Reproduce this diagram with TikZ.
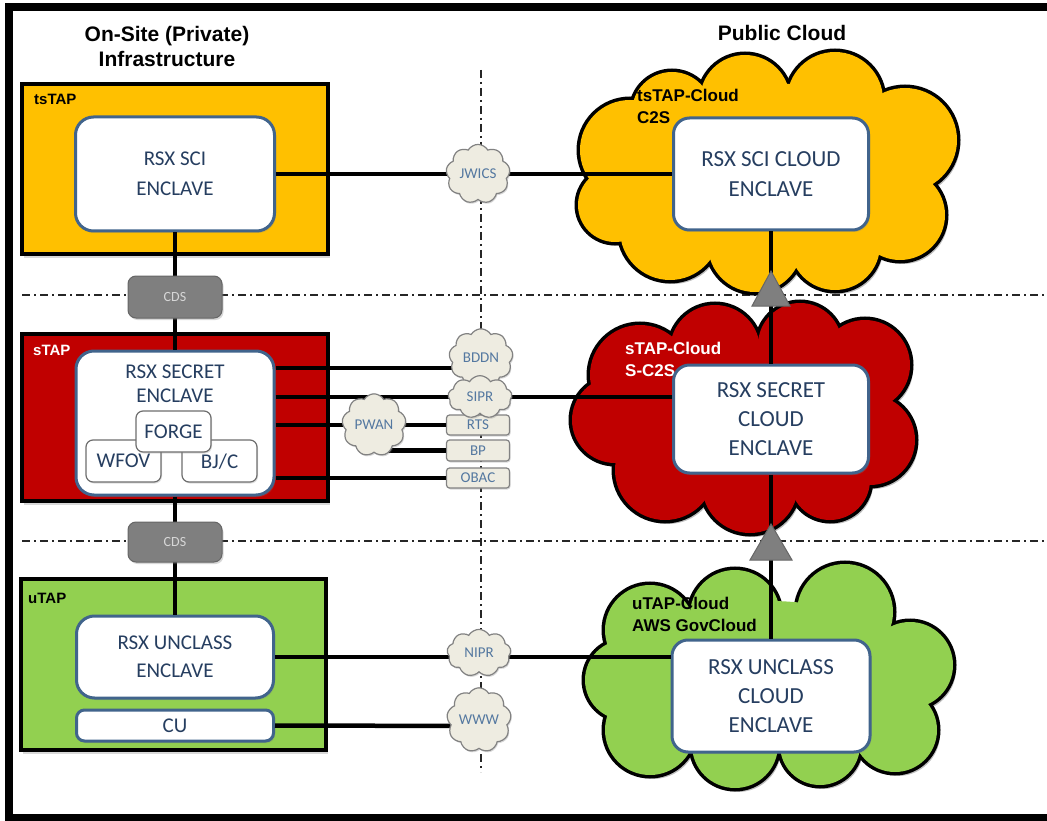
\documentclass[tikz,border=0pt]{standalone}
\usepackage{fontspec}
\setmainfont{Carlito}
\newfontfamily\hdr{Liberation Sans}
\usetikzlibrary{shapes.symbols,shapes.geometric,shadows,calc}
\definecolor{tsorange}{RGB}{255,192,0}
\definecolor{sred}{RGB}{192,0,0}
\definecolor{ugreen}{RGB}{146,208,80}
\definecolor{encborder}{RGB}{65,100,140}
\definecolor{enctext}{RGB}{38,62,96}
\definecolor{smallfill}{RGB}{238,236,225}
\definecolor{smallborder}{RGB}{130,130,130}
\definecolor{smalltext}{RGB}{84,120,160}
\definecolor{cdsfill}{RGB}{127,127,127}
\definecolor{cdstext}{RGB}{215,215,215}
\definecolor{subborder}{RGB}{110,110,110}
\tikzset{
  sep/.style={draw=black!85, line width=1.8pt, dash pattern=on 8pt off 4pt on 2pt off 4pt},
  tapbox/.style={draw=black, line width=4pt, inner sep=0pt,
    drop shadow={shadow xshift=2pt, shadow yshift=-4pt, opacity=0.3}},
  taplabel/.style={font=\hdr\bfseries\fontsize{15}{18}\selectfont, anchor=west, inner sep=0pt},
  enclave/.style={draw=encborder, fill=white, line width=3pt, rounded corners=18pt, inner sep=0pt,
    align=center, text=enctext, font=\fontsize{21}{28}\selectfont,
    drop shadow={shadow xshift=1.5pt, shadow yshift=-2pt, opacity=0.25}},
  cenclave/.style={enclave, rounded corners=16pt, font=\fontsize{23}{29}\selectfont},
  subbox/.style={draw=subborder, fill=white, line width=1.2pt, rounded corners=7pt, inner sep=0pt,
    text=enctext, font=\fontsize{21}{24}\selectfont,
    drop shadow={shadow xshift=1pt, shadow yshift=-1.5pt, opacity=0.25}},
  cloudlabel/.style={font=\hdr\bfseries\fontsize{17}{22}\selectfont, align=left, anchor=north west, inner sep=0pt},
  net/.style={cloud, cloud puffs=9, cloud puff arc=120, draw=smallborder, fill=smallfill, line width=1.2pt,
    minimum width=64pt, minimum height=36pt, inner sep=0pt, text=smalltext,
    font=\fontsize{15}{17}\selectfont,
    drop shadow={shadow xshift=1pt, shadow yshift=-1.5pt, opacity=0.3}},
  netbox/.style={draw=smallborder, fill=smallfill, line width=1.2pt, rounded corners=3pt,
    minimum width=63pt, inner sep=0pt, text=smalltext, font=\fontsize{15}{17}\selectfont,
    drop shadow={shadow xshift=1pt, shadow yshift=-1.5pt, opacity=0.3}},
  cds/.style={draw=black!60, fill=cdsfill, line width=1pt, rounded corners=8pt, minimum width=94pt,
    inner sep=0pt, text=cdstext, font=\fontsize{14}{16}\selectfont,
    drop shadow={shadow xshift=1.5pt, shadow yshift=-2pt, opacity=0.3}},
  conn/.style={draw=black, line width=4.5pt},
  up/.style={fill=cdsfill, draw=black!60, line width=1pt},
  title/.style={font=\hdr\bfseries\fontsize{21}{25}\selectfont, align=center, inner sep=0pt}
}
% lumpy cloud built from circles: #1 fill colour, #2 circle list x/y/r, #3 filler ellipse centre, #4 radii
\newcommand{\lumpycloud}[4]{%
  \begin{scope}[transparency group, opacity=0.25, shift={(3,4)}]
    \foreach \cx/\cy/\cr in {#2} \fill[black] (\cx,\cy) circle[radius=\cr pt];
    \fill[black] #3 ellipse[x radius=#4];
  \end{scope}
  \foreach \cx/\cy/\cr in {#2} \draw[line width=7pt] (\cx,\cy) circle[radius=\cr pt];
  \foreach \cx/\cy/\cr in {#2} \fill[#1] (\cx,\cy) circle[radius=\cr pt];
  \fill[#1] #3 ellipse[x radius=#4];
}
\begin{document}
\begin{tikzpicture}[x=1pt,y=-1pt]
\useasboundingbox (0,0) rectangle (1047,821);
\fill[white] (0,0) rectangle (1047,821);
% frame
\draw[line width=8pt] (1047,7) -- (9,7) -- (9,818) -- (1047,818);

% titles
\node[title] (t1) at (167,46) {On-Site (Private)\\Infrastructure};
\node[title] (t2) at (782,33) {Public Cloud};

% separators
\draw[sep] (22,295) -- (1047,295);
\draw[sep] (22,541) -- (1047,541);
\draw[sep] (481,70) -- (481,772);

% big clouds
\lumpycloud{tsorange}{630/150/50, 672/112/40, 745/100/45, 835/100/48, 905/140/52, 900/215/45, 835/245/45, 755/245/47, 670/230/50, 615/205/37}{(767,173)}{150pt, y radius=90pt}
\lumpycloud{sred}{640/375/50, 715/350/45, 800/345/42, 865/365/45, 870/440/45, 830/480/40, 750/485/48, 665/470/50, 615/420/43}{(743,419)}{140pt, y radius=80pt}
\lumpycloud{ugreen}{650/630/45, 735/615/45, 845/612/48, 910/665/43, 895/730/42, 820/745/40, 735/745/43, 650/730/45, 625/680/40}{(769,676)}{150pt, y radius=75pt}
\coordinate (tscloud) at (767,173);
\coordinate (scloud) at (743,419);
\coordinate (ucloud) at (769,676);

% TAP boxes
\node[tapbox, fill=tsorange, minimum width=306pt, minimum height=170pt] (tstap) at (175,169) {};
\node[tapbox, fill=sred, minimum width=306pt, minimum height=167pt] (stap) at (175,417.5) {};
\node[tapbox, fill=ugreen, minimum width=305pt, minimum height=171pt] (utap) at (173.5,664.5) {};
\node[taplabel] (l1) at (34,99) {tsTAP};
\node[taplabel, text=white] (l2) at (33,350) {sTAP};
\node[taplabel] (l3) at (28,598) {uTAP};

% on-site enclaves
\node[enclave, font=\fontsize{21}{30}\selectfont, minimum width=199pt, minimum height=114pt] (sci) at (175,174) {RSX SCI\\ENCLAVE};
\node[enclave, minimum width=198pt, minimum height=144pt] (secret) at (175,423) {};
\node[enclave, minimum width=197pt, minimum height=82pt] (unclass) at (175,657) {RSX UNCLASS\\ENCLAVE};
\node[enclave, rounded corners=8pt, minimum width=197pt, minimum height=31pt] (cu) at (175,725.5) {CU};
\node[align=center, text=enctext, font=\fontsize{21}{24}\selectfont, inner sep=0pt] (sectxt) at (175,384) {RSX SECRET\\ENCLAVE};
\node[subbox, minimum width=75pt, minimum height=42pt, text depth=-8pt] (wfov) at (123.5,461) {WFOV};
\node[subbox, minimum width=75pt, minimum height=42pt, text depth=-8pt] (bjc) at (219.5,461) {BJ/C};
\node[subbox, minimum width=75pt, minimum height=41pt] (forge) at (173.5,431.5) {FORGE};

% cloud labels
\node[cloudlabel] (cl1) at (637,89) {tsTAP-Cloud\\C2S};
\node[cloudlabel, text=white] (cl2) at (625,342) {sTAP-Cloud\\S-C2S};
\node[cloudlabel] (cl3) at (632,597) {uTAP-Cloud\\AWS GovCloud};

% cloud enclaves
\node[cenclave, font=\fontsize{23}{30}\selectfont, minimum width=195pt, minimum height=112pt] (scicloud) at (771,174) {RSX SCI CLOUD\\ENCLAVE};
\node[cenclave, minimum width=195pt, minimum height=108pt] (secretcloud) at (771,419) {RSX SECRET\\CLOUD\\ENCLAVE};
\node[cenclave, minimum width=198pt, minimum height=112pt] (unclasscloud) at (771,696) {RSX UNCLASS\\CLOUD\\ENCLAVE};

% network node positions
\coordinate (jw) at (478,174);
\coordinate (bd) at (481,368);
\coordinate (sp) at (480,397);

% connectors
\draw[conn] (sci.south) -- (secret.north);
\draw[conn] (secret.south) -- (unclass.north);
\draw[conn] (sci.east) -- (sci.east -| scicloud.west);
\draw[conn] (secret.east |- bd) -- (bd);
\draw[conn] (secret.east |- sp) -- (sp -| secretcloud.west);
\draw[conn] (unclass.east) -- (unclass.east -| unclasscloud.west);
\draw[conn] (scicloud.south) -- (secretcloud.north);
\draw[conn] (secretcloud.south) -- (unclasscloud.north);

% upward triangles
\filldraw[up] (771,271) -- (752,306) -- (790,306) -- cycle;
\filldraw[up] (771,524) -- (750,560) -- (792,560) -- cycle;

% CDS
\node[cds, minimum height=42pt] (cds1) at (175,297) {CDS};
\node[cds, minimum height=40pt] (cds2) at (175,542) {CDS};

% small network boxes
\node[netbox, minimum height=20pt] (rts) at (478,425) {RTS};
\node[netbox, minimum height=21pt] (bp) at (478,450.5) {BP};
\node[netbox, minimum height=20pt] (obac) at (478,478) {OBAC};
\coordinate (pw) at (374,425);
\draw[conn] (secret.east |- rts) -- (rts.west);
\draw[conn] (pw) |- (bp.west);
\draw[conn] (secret.east |- obac) -- (obac.west);
\coordinate (ww) at (479,726);
\draw[conn] (cu.east) -- (ww);

% small clouds
\node[net] (jwics) at (jw) {JWICS};
\node[net] (bddn) at (481,358) {BDDN};
\node[net] (sipr) at (sp) {SIPR};
\node[net] (pwan) at (pw) {PWAN};
\node[net] (nipr) at (479,653) {NIPR};
\node[net] (www) at (479,720) {WWW};
\end{tikzpicture}
\end{document}
